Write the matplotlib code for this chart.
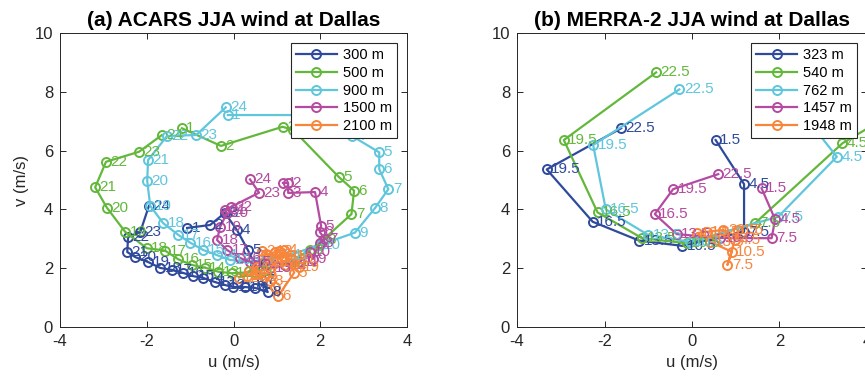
"""Diurnal wind hodographs at Dallas: ACARS vs MERRA-2 (JJA)."""

import numpy as np
import matplotlib.pyplot as plt

plt.rcParams["font.family"] = ["Liberation Sans", "DejaVu Sans"]
plt.rcParams["axes.unicode_minus"] = False

# ---- (a) ACARS, hourly (hour 1..24) ----
acars_hours = list(range(1, 25))
acars_levels = ["300 m", "500 m", "900 m", "1500 m", "2100 m"]

acars_u_300 = [-1.07, -0.54, -0.20, 0.08, 0.33, 0.50, 0.66, 0.79, 0.50, 0.26, -0.01, -0.20,
               -0.43, -0.70, -0.93, -1.16, -1.42, -1.69, -1.97, -2.27, -2.45, -2.43, -2.15, -1.95]
acars_v_300 = [3.37, 3.47, 3.88, 3.30, 2.62, 2.11, 1.60, 1.19, 1.33, 1.36, 1.36, 1.43,
               1.53, 1.67, 1.73, 1.84, 1.94, 2.01, 2.21, 2.38, 2.55, 3.06, 3.23, 4.12]

acars_u_500 = [-1.19, -0.29, 1.13, 1.38, 2.43, 2.78, 2.72, 2.06, 1.76, 1.19, 0.50, -0.04,
               -0.35, -0.66, -0.96, -1.27, -1.58, -2.00, -2.50, -2.92, -3.19, -2.94, -2.18, -1.65]
acars_v_500 = [6.76, 6.16, 6.81, 6.70, 5.10, 4.64, 3.84, 2.96, 2.62, 2.11, 1.87, 1.83,
               1.88, 2.02, 2.11, 2.30, 2.60, 2.68, 3.24, 4.06, 4.75, 5.62, 5.96, 6.53]

acars_u_900 = [-0.13, 1.46, 2.11, 2.73, 3.36, 3.36, 3.57, 3.26, 2.80, 1.99, 1.30, 0.50,
               -0.08, -0.39, -0.70, -1.00, -1.27, -1.62, -1.92, -1.99, -1.97, -1.53, -0.86, -0.18]
acars_v_900 = [7.21, 7.21, 6.97, 6.50, 5.94, 5.37, 4.69, 4.04, 3.21, 2.79, 2.45, 2.21,
               2.28, 2.45, 2.62, 2.87, 3.13, 3.53, 4.12, 4.97, 5.68, 6.50, 6.53, 7.47]

acars_u_1500 = [1.14, 1.26, 1.26, 1.88, 2.02, 1.99, 2.11, 1.99, 1.83, 1.76, 1.53, 1.19,
                0.84, 0.56, 0.38, 0.15, -0.15, -0.38, -0.31, -0.15, -0.20, -0.06, 0.59, 0.38]
acars_v_1500 = [4.90, 4.90, 4.56, 4.59, 3.44, 3.23, 2.99, 2.86, 2.31, 2.55, 2.21, 2.11,
                2.01, 2.07, 2.21, 2.35, 2.62, 2.96, 3.40, 3.88, 3.98, 4.08, 4.57, 5.02]

acars_u_2100 = [0.80, 0.95, 1.05, 1.17, 1.40, 1.03, 0.95, 0.85, 0.70, 0.50, 0.30, 0.12,
                0.35, 0.55, 0.70, 0.80, 1.00, 1.20, 1.50, 1.35, 1.15, 0.90, 0.75, 0.65]
acars_v_2100 = [2.45, 2.55, 2.60, 2.62, 1.85, 1.05, 1.35, 1.55, 1.70, 1.80, 1.75, 1.68,
                1.90, 2.05, 2.20, 2.35, 2.20, 2.10, 2.05, 2.30, 2.40, 2.30, 2.50, 2.60]

# ---- (b) MERRA-2, 3-hourly ----
merra_hours = [1.5, 4.5, 7.5, 10.5, 13.5, 16.5, 19.5, 22.5]
merra_levels = ["323 m", "540 m", "762 m", "1457 m", "1948 m"]

merra_u_323 = [0.54, 1.19, 1.19, -0.22, -1.21, -2.27, -3.32, -1.62]
merra_v_323 = [6.36, 4.86, 3.24, 2.76, 2.94, 3.58, 5.36, 6.76]

merra_u_540 = [4.40, 3.44, 1.44, -0.12, -1.14, -2.16, -2.93, -0.82]
merra_v_540 = [7.10, 6.25, 3.53, 2.85, 3.02, 3.90, 6.36, 8.66]

merra_u_762 = [2.47, 3.31, 1.97, -0.05, -1.00, -1.97, -2.26, -0.29]
merra_v_762 = [7.38, 5.79, 3.75, 2.90, 3.13, 4.00, 6.19, 8.08]

merra_u_1457 = [1.59, 1.90, 1.82, 0.64, -0.35, -0.85, -0.43, 0.60]
merra_v_1457 = [4.72, 3.66, 3.02, 3.03, 3.16, 3.84, 4.69, 5.20]

merra_u_1948 = [1.05, 0.98, 0.81, 0.91, 0.41, 0.11, 0.34, 0.72]
merra_v_1948 = [3.30, 2.96, 2.11, 2.56, 2.90, 3.19, 3.24, 3.30]

colors = ["#2f4a9c", "#63b83c", "#5fc6dc", "#b44ba0", "#f7853c"]
AXC = "#262626"


def hodograph(ax, us, vs, hours, levels, fmt, title, ylabel=True):
    for u, v, lab, c in zip(us, vs, levels, colors):
        ax.plot(u, v, "-o", color=c, lw=1.6, ms=6.5, mfc="none", mew=1.4, label=lab)
        for x, y, h in zip(u, v, hours):
            ax.annotate(fmt.format(h), (x, y), xytext=(3.2, 0), textcoords="offset points",
                        color=c, fontsize=11, va="center", ha="left", clip_on=True,
                        annotation_clip=True)
    ax.set_xlim(-4, 4); ax.set_ylim(0, 10)
    ax.set_xticks([-4, -2, 0, 2, 4]); ax.set_yticks(np.arange(0, 11, 2))
    ax.tick_params(direction="in", top=True, right=True, length=4, width=0.7,
                   colors=AXC, labelsize=12, pad=5)
    for s in ax.spines.values():
        s.set_color(AXC); s.set_linewidth(0.7)
    ax.set_xlabel("u (m/s)", fontsize=12, color=AXC)
    if ylabel:
        ax.set_ylabel("v (m/s)", fontsize=12, color=AXC)
    ax.set_title(title, fontsize=15, fontweight="bold", pad=5)
    leg = ax.legend(loc="upper right", fontsize=10.5, fancybox=False, framealpha=1,
                    edgecolor=AXC, handlelength=2.8, handletextpad=0.4,
                    labelspacing=0.25, borderaxespad=0.7, borderpad=0.35)
    leg.get_frame().set_linewidth(0.8)


fig = plt.figure(figsize=(8.65, 3.83), dpi=100)
ax1 = fig.add_axes([0.0694, 0.1462, 0.4011, 0.7676])
ax2 = fig.add_axes([0.5977, 0.1462, 0.4046, 0.7676])

hodograph(ax1,
          [acars_u_300, acars_u_500, acars_u_900, acars_u_1500, acars_u_2100],
          [acars_v_300, acars_v_500, acars_v_900, acars_v_1500, acars_v_2100],
          acars_hours, acars_levels, "{:d}", "(a) ACARS JJA wind at Dallas")
hodograph(ax2,
          [merra_u_323, merra_u_540, merra_u_762, merra_u_1457, merra_u_1948],
          [merra_v_323, merra_v_540, merra_v_762, merra_v_1457, merra_v_1948],
          merra_hours, merra_levels, "{:.1f}", "(b) MERRA-2 JJA wind at Dallas", ylabel=False)

fig.savefig("out.png", dpi=100)
